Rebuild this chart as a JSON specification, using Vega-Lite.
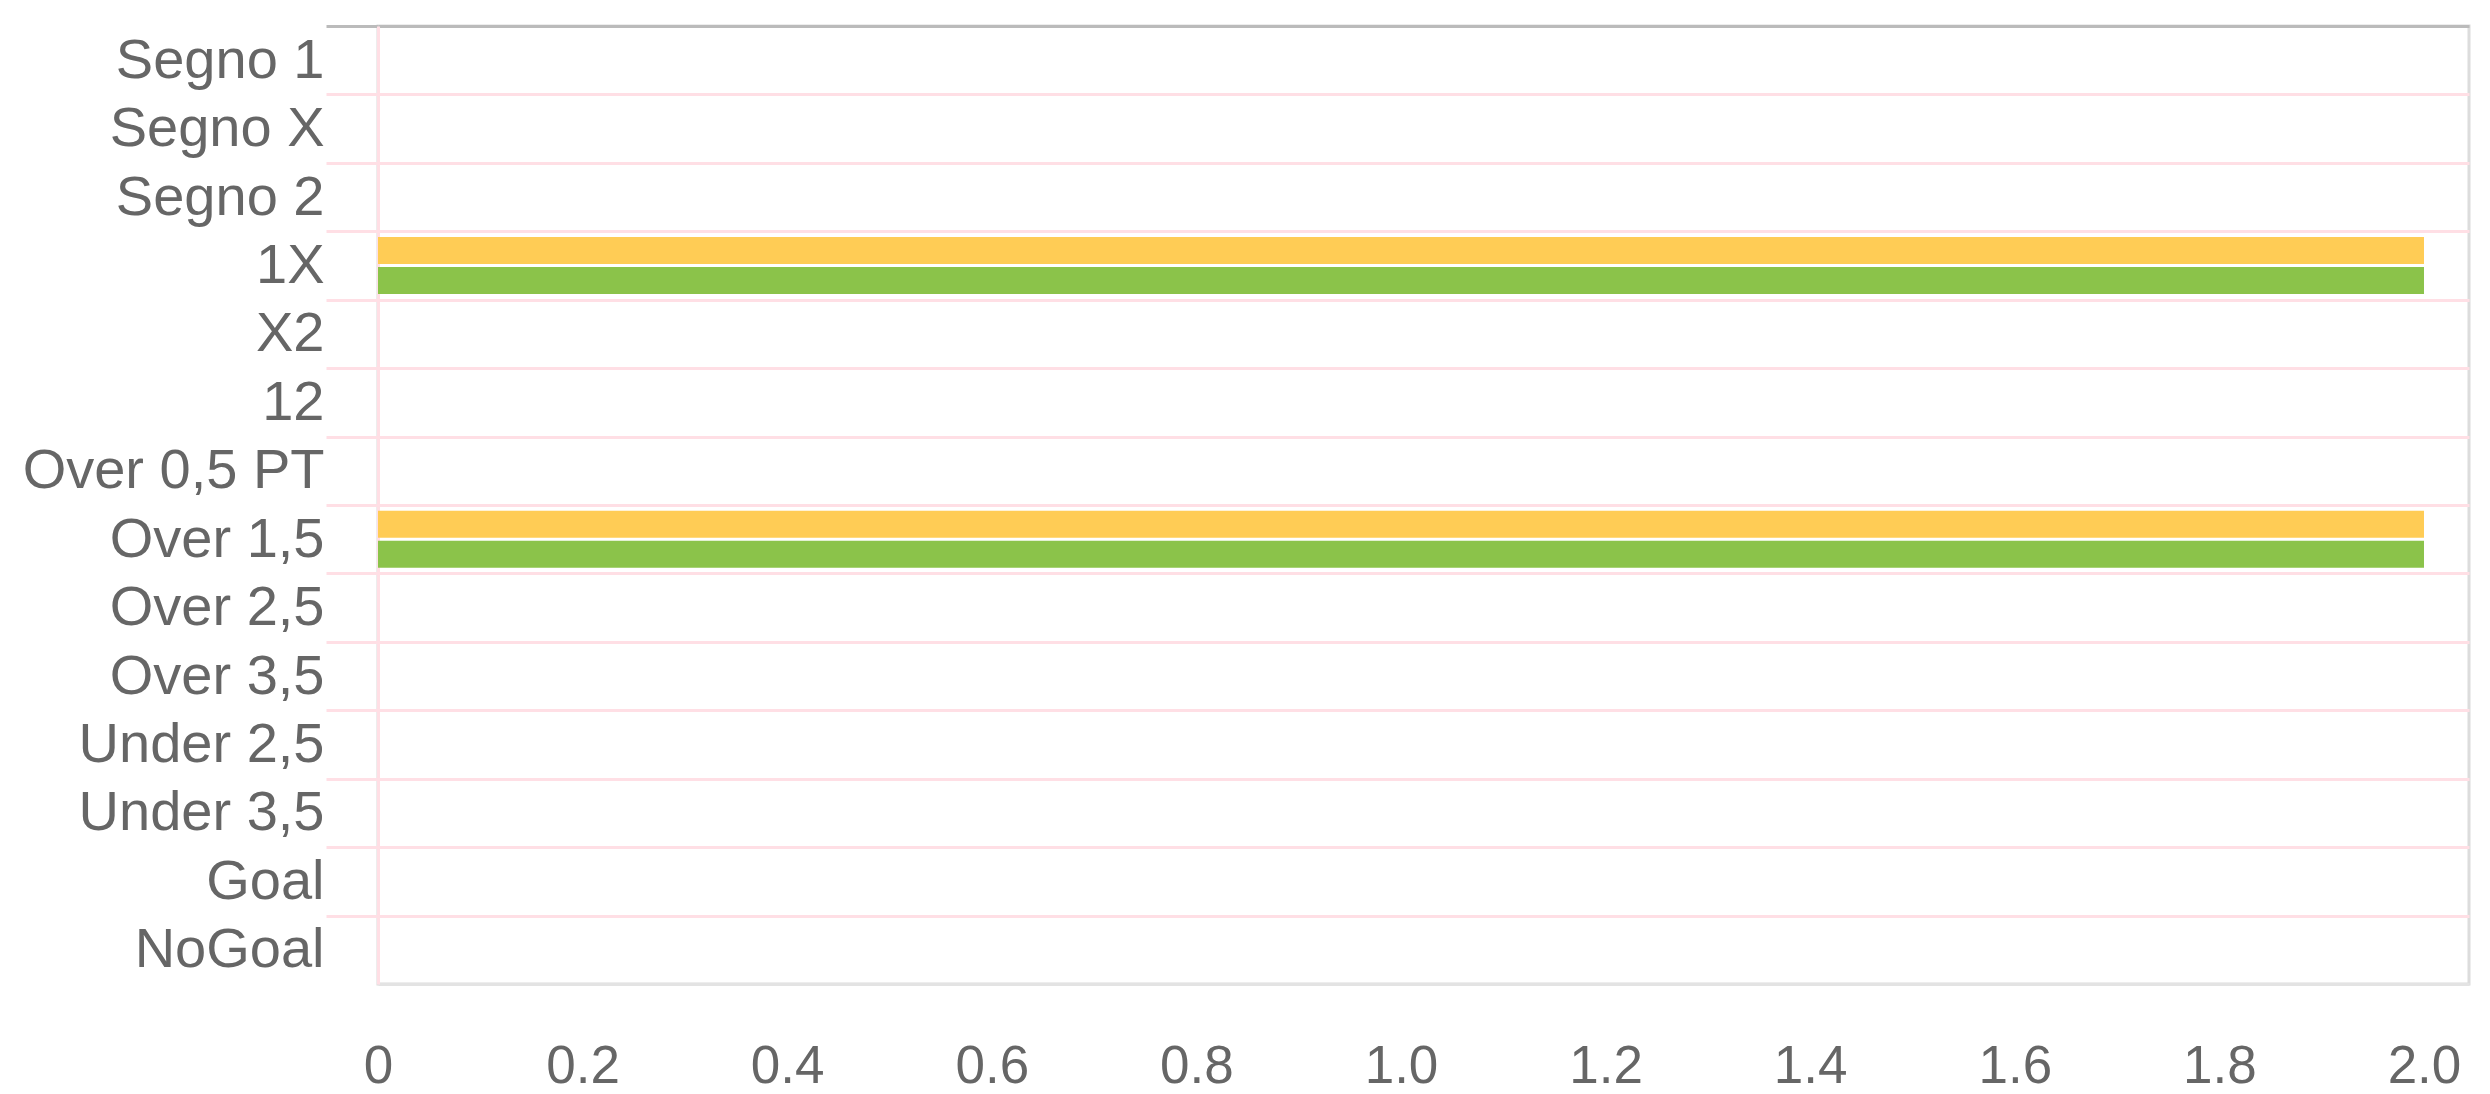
{
  "$schema": "https://vega.github.io/schema/vega-lite/v6.json",
  "width": 2091,
  "height": 958,
  "autosize": {"type": "none"},
  "padding": {"left": 378, "top": 26, "right": 21, "bottom": 110},
  "background": "white",
  "config": {
    "view": {"stroke": "#dcdcdc", "strokeWidth": 3},
    "font": "Liberation Sans"
  },
  "data": {
    "values": [
      {"categoria": "Segno 1", "serie": "Serie 1", "valore": 0},
      {"categoria": "Segno 1", "serie": "Serie 2", "valore": 0},
      {"categoria": "Segno X", "serie": "Serie 1", "valore": 0},
      {"categoria": "Segno X", "serie": "Serie 2", "valore": 0},
      {"categoria": "Segno 2", "serie": "Serie 1", "valore": 0},
      {"categoria": "Segno 2", "serie": "Serie 2", "valore": 0},
      {"categoria": "1X", "serie": "Serie 1", "valore": 2},
      {"categoria": "1X", "serie": "Serie 2", "valore": 2},
      {"categoria": "X2", "serie": "Serie 1", "valore": 0},
      {"categoria": "X2", "serie": "Serie 2", "valore": 0},
      {"categoria": "12", "serie": "Serie 1", "valore": 0},
      {"categoria": "12", "serie": "Serie 2", "valore": 0},
      {"categoria": "Over 0,5 PT", "serie": "Serie 1", "valore": 0},
      {"categoria": "Over 0,5 PT", "serie": "Serie 2", "valore": 0},
      {"categoria": "Over 1,5", "serie": "Serie 1", "valore": 2},
      {"categoria": "Over 1,5", "serie": "Serie 2", "valore": 2},
      {"categoria": "Over 2,5", "serie": "Serie 1", "valore": 0},
      {"categoria": "Over 2,5", "serie": "Serie 2", "valore": 0},
      {"categoria": "Over 3,5", "serie": "Serie 1", "valore": 0},
      {"categoria": "Over 3,5", "serie": "Serie 2", "valore": 0},
      {"categoria": "Under 2,5", "serie": "Serie 1", "valore": 0},
      {"categoria": "Under 2,5", "serie": "Serie 2", "valore": 0},
      {"categoria": "Under 3,5", "serie": "Serie 1", "valore": 0},
      {"categoria": "Under 3,5", "serie": "Serie 2", "valore": 0},
      {"categoria": "Goal", "serie": "Serie 1", "valore": 0},
      {"categoria": "Goal", "serie": "Serie 2", "valore": 0},
      {"categoria": "NoGoal", "serie": "Serie 1", "valore": 0},
      {"categoria": "NoGoal", "serie": "Serie 2", "valore": 0}
    ]
  },
  "mark": {"type": "bar"},
  "encoding": {
    "y": {
      "field": "categoria",
      "type": "nominal",
      "sort": null,
      "scale": {"paddingInner": 0, "paddingOuter": 0},
      "axis": {
        "title": null,
        "tickBand": "extent",
        "grid": true,
        "gridColor": {
          "condition": [
            {"test": "datum.extra", "value": "#bbbbbb"},
            {"test": "datum.value === 'NoGoal'", "value": "transparent"}
          ],
          "value": "#ffdfe5"
        },
        "gridWidth": 3,
        "ticks": true,
        "tickSize": 52,
        "tickWidth": 3,
        "tickColor": {
          "condition": [
            {"test": "datum.extra", "value": "#bbbbbb"},
            {"test": "datum.value === 'NoGoal'", "value": "transparent"}
          ],
          "value": "#ffdfe5"
        },
        "domain": true,
        "domainColor": "#ffdfe5",
        "domainWidth": 3,
        "labelPadding": 2,
        "labelFontSize": 56,
        "labelColor": "#666666",
        "labelFont": "Liberation Sans",
        "labelLimit": 400
      }
    },
    "yOffset": {
      "field": "serie",
      "sort": null,
      "scale": {"paddingInner": 0.1, "paddingOuter": 0.19}
    },
    "x": {
      "field": "valore",
      "type": "quantitative",
      "scale": {"domain": [0, 2.044], "nice": false, "zero": true},
      "axis": {
        "title": null,
        "values": [0, 0.2, 0.4, 0.6, 0.8, 1.0, 1.2, 1.4, 1.6, 1.8, 2.0],
        "labelExpr": "datum.value === 0 ? '0' : format(datum.value, '.1f')",
        "grid": false,
        "ticks": false,
        "tickSize": 0,
        "domain": true,
        "domainColor": "#e3e3e3",
        "domainWidth": 3,
        "labelFlush": false,
        "labelOverlap": false,
        "labelBaseline": "alphabetic",
        "labelPadding": 98,
        "labelFontSize": 53,
        "labelColor": "#666666",
        "labelFont": "Liberation Sans"
      }
    },
    "color": {
      "field": "serie",
      "type": "nominal",
      "scale": {"domain": ["Serie 1", "Serie 2"], "range": ["#ffcc55", "#8bc34a"]},
      "legend": null
    }
  }
}
